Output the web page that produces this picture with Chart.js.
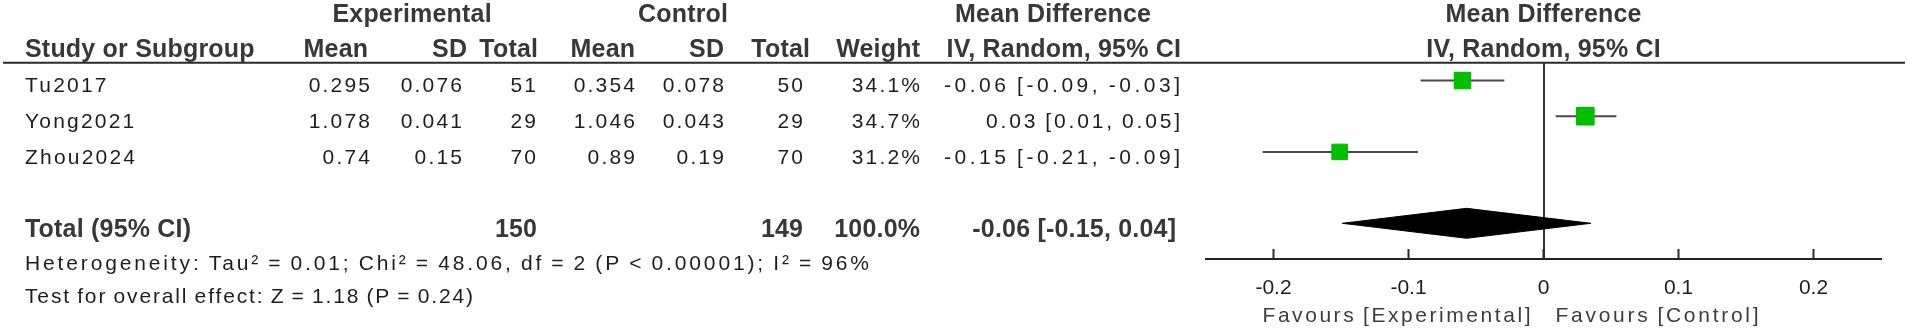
<!DOCTYPE html>
<html><head><meta charset="utf-8">
<script src="https://cdn.jsdelivr.net/npm/chart.js@4/dist/chart.umd.min.js"></script>
<style>html,body{margin:0;padding:0;background:#fff;overflow:hidden}#wrap{width:1908px;height:336px;position:relative}</style>
</head><body><div id="wrap"><canvas id="c" width="1908" height="336"></canvas></div>
<script>
// ---- data ----
const studies = ['Tu2017', 'Yong2021', 'Zhou2024'];
const expMean = ['0.295', '1.078', '0.74'];
const expSD = ['0.076', '0.041', '0.15'];
const expN = ['51', '29', '70'];
const ctlMean = ['0.354', '1.046', '0.89'];
const ctlSD = ['0.078', '0.043', '0.19'];
const ctlN = ['50', '29', '70'];
const weightLabels = ['34.1%', '34.7%', '31.2%'];
const md = [-0.060, 0.031, -0.151];
const ciLow = [-0.091, 0.009, -0.208];
const ciHigh = [-0.029, 0.054, -0.093];
const mdLabels = ['-0.06 [-0.09, -0.03]', '0.03 [0.01, 0.05]', '-0.15 [-0.21, -0.09]'];
const totalMD = [-0.057];
const totalLow = [-0.149];
const totalHigh = [0.035];
const totalRow = ['Total (95% CI)', '150', '149', '100.0%', '-0.06 [-0.15, 0.04]'];
const xTicks = [-0.2, -0.1, 0, 0.1, 0.2];
const xTickLabels = ['-0.2', '-0.1', '0', '0.1', '0.2'];
const heterogeneity = 'Heterogeneity: Tau\u00b2 = 0.01; Chi\u00b2 = 48.06, df = 2 (P < 0.00001); I\u00b2 = 96%';
const overallEffect = 'Test for overall effect: Z = 1.18 (P = 0.24)';
const favours = ['Favours [Experimental]', 'Favours [Control]'];

// ---- styles ----
const FONT = '"Liberation Sans", Arial, sans-serif';
const REG = '21px ' + FONT, REG_LS = 2.2, REG_WS = -1.5;
const BOLD = 'bold 25px ' + FONT, BOLD_LS = 0.2;
const squareRadius = [11.7, 12.4, 11.0];
const diamondHalf = 0.42;
const rowY = [86.5, 122.5, 158.5];
const ciLabelWidth = [236, 194, 236];

function txt(ctx, s, x, y, align, bold, color, width) {
  let ls = bold ? BOLD_LS : REG_LS;
  ctx.font = bold ? BOLD : REG;
  try { ctx.wordSpacing = (bold ? 0 : REG_WS) + 'px'; } catch (e) {}
  if (width) {
    try { ctx.letterSpacing = '0px'; } catch (e) {}
    const w0 = ctx.measureText(s).width;
    ls = (width - w0) / Math.max(1, s.length - 1);
  }
  try { ctx.letterSpacing = ls + 'px'; } catch (e) {}
  ctx.textAlign = align;
  ctx.textBaseline = 'middle';
  ctx.fillStyle = color || (bold ? '#383838' : '#1e1e1e');
  let xx = x;
  if (align === 'right') xx = x + ls;
  if (align === 'center') xx = x + ls / 2;
  ctx.fillText(s, xx, y);
}

const forestPlugin = {
  id: 'forest',
  afterDraw(chart) {
    const ctx = chart.ctx, xs = chart.scales.x, area = chart.chartArea;
    const zero = xs.getPixelForValue(0);
    ctx.save();
    // header rule
    ctx.strokeStyle = '#2a2a2a'; ctx.lineWidth = 2;
    ctx.beginPath(); ctx.moveTo(3, area.top); ctx.lineTo(1905, area.top); ctx.stroke();
    // upward tick marks
    ctx.beginPath();
    xs.ticks.forEach(t => { const px = xs.getPixelForValue(t.value); ctx.moveTo(px, area.bottom - 10); ctx.lineTo(px, area.bottom); });
    ctx.stroke();
    // headers
    txt(ctx, 'Experimental', 412, 15, 'center', true);
    txt(ctx, 'Control', 683, 15, 'center', true);
    txt(ctx, 'Mean Difference', 1053, 15, 'center', true);
    txt(ctx, 'Mean Difference', zero, 15, 'center', true);
    const hy = 50;
    txt(ctx, 'Study or Subgroup', 25, hy, 'left', true);
    txt(ctx, 'Mean', 368, hy, 'right', true);
    txt(ctx, 'SD', 467, hy, 'right', true);
    txt(ctx, 'Total', 538, hy, 'right', true);
    txt(ctx, 'Mean', 635, hy, 'right', true);
    txt(ctx, 'SD', 724, hy, 'right', true);
    txt(ctx, 'Total', 810, hy, 'right', true);
    txt(ctx, 'Weight', 920, hy, 'right', true);
    txt(ctx, 'IV, Random, 95% CI', 1181, hy, 'right', true);
    txt(ctx, 'IV, Random, 95% CI', zero, hy, 'center', true);
    // rows
    studies.forEach((s, i) => {
      const y = rowY[i];
      txt(ctx, s, 25, y, 'left', false);
      txt(ctx, expMean[i], 370, y, 'right', false);
      txt(ctx, expSD[i], 462, y, 'right', false);
      txt(ctx, expN[i], 536, y, 'right', false);
      txt(ctx, ctlMean[i], 635, y, 'right', false);
      txt(ctx, ctlSD[i], 724, y, 'right', false);
      txt(ctx, ctlN[i], 803, y, 'right', false);
      txt(ctx, weightLabels[i], 920, y, 'right', false);
      txt(ctx, mdLabels[i], 1180, y, 'right', false, null, ciLabelWidth[i]);
    });
    // total
    txt(ctx, totalRow[0], 25, 230, 'left', true);
    txt(ctx, totalRow[1], 537, 230, 'right', true);
    txt(ctx, totalRow[2], 803, 230, 'right', true);
    txt(ctx, totalRow[3], 920, 230, 'right', true);
    txt(ctx, totalRow[4], 1176, 230, 'right', true);
    txt(ctx, heterogeneity, 25, 264, 'left', false, null, 844);
    txt(ctx, overallEffect, 25, 297, 'left', false, null, 448);
    txt(ctx, favours[0], zero - 13, 316, 'right', false, '#3c3c3c', 268);
    txt(ctx, favours[1], zero + 12, 316, 'left', false, '#3c3c3c', 203);
    ctx.restore();
  }
};

const datasets = [];
studies.forEach((s, i) => {
  datasets.push({
    label: s + ' CI', data: [{x: ciLow[i], y: i + 1}, {x: ciHigh[i], y: i + 1}],
    showLine: true, borderColor: '#4a4a4a', borderWidth: 2, pointRadius: 0, order: 2
  });
});
datasets.push({
  label: 'Studies', data: md.map((v, i) => ({x: v, y: i + 1})),
  pointStyle: 'rect', pointRadius: squareRadius, backgroundColor: '#00c000', borderColor: '#00b400', borderWidth: 1, order: 1
});
datasets.push({
  label: 'Total', data: [
    {x: totalLow[0], y: 5}, {x: totalMD[0], y: 5 - diamondHalf}, {x: totalHigh[0], y: 5},
    {x: totalMD[0], y: 5 + diamondHalf}, {x: totalLow[0], y: 5}],
  showLine: true, fill: 'shape', backgroundColor: '#000', borderColor: '#000', borderWidth: 1, pointRadius: 0, tension: 0, order: 1
});

new Chart(document.getElementById('c'), {
  type: 'scatter',
  data: {datasets},
  options: {
    responsive: false, animation: false, devicePixelRatio: 1, events: [],
    layout: {padding: {left: 1206, right: 27, top: 62.7, bottom: 0}},
    plugins: {legend: {display: false}, tooltip: {enabled: false}},
    scales: {
      x: {
        type: 'linear', min: -0.25, max: 0.25,
        afterBuildTicks: (scale) => { scale.ticks = xTicks.map(v => ({value: v})); },
        afterFit: (scale) => { scale.height = 77; },
        ticks: {
          callback: (v, i) => xTickLabels[i], color: '#1e1e1e', padding: 17,
          font: {family: 'Liberation Sans', size: 21}, maxRotation: 0, autoSkip: false
        },
        grid: {
          drawTicks: false, lineWidth: 2,
          color: (c) => (c.tick && c.tick.value === 0 ? '#333' : 'rgba(0,0,0,0)')
        },
        border: {display: true, color: '#222', width: 2}
      },
      y: {type: 'linear', min: 0.5, max: 6, reverse: true, display: false}
    }
  },
  plugins: [forestPlugin]
});
</script></body></html>
